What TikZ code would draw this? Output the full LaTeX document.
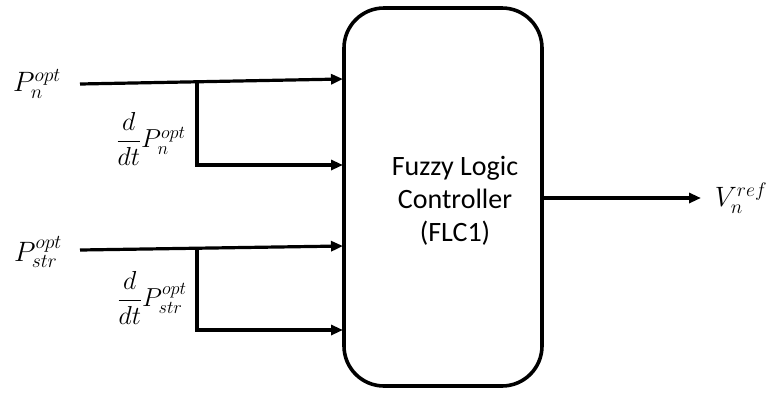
\RequirePackage{fix-cm}
\documentclass[tikz,border=0pt]{standalone}
\usepackage{amsmath}
\usepackage{fontspec}
\setmainfont{Carlito}
\usetikzlibrary{arrows.meta}
\tikzset{
  wire/.style={line width=3.2pt},
  feed/.style={wire, -{Triangle[length=12pt,width=10pt]}},
  flc/.style={draw, line width=3.6pt, rounded corners=40pt, minimum width=198pt, minimum height=378pt},
  flctext/.style={align=center, inner sep=0pt, font=\fontsize{28}{33}\selectfont},
  sig/.style={font=\fontsize{28}{32}\selectfont, inner sep=0pt},
  dsig/.style={font=\fontsize{26}{30}\selectfont, inner sep=0pt}
}
\begin{document}
\begin{tikzpicture}[x=1pt,y=-1pt]
\useasboundingbox (0,0) rectangle (772,392);
% controller block
\node[flc] (box) at (443,197) {};
\node[flctext] (name) at (455,201) {Fuzzy Logic\\Controller\\(FLC1)};
% inputs and branch points
\coordinate (in1) at (80,84);
\coordinate (br1) at (197,82);
\coordinate (e1) at (343,79);
\coordinate (d1) at (197,165);
\coordinate (f1) at (343,165);
\coordinate (in2) at (80,250);
\coordinate (br2) at (197,249);
\coordinate (e2) at (343,246);
\coordinate (d2) at (197,330);
\coordinate (f2) at (343,330);
\coordinate (out) at (701,198);
% connectors
\draw[feed] (in1) -- (e1);
\draw[feed, line cap=rect] (br1) -- (d1) -- (f1);
\draw[feed] (in2) -- (e2);
\draw[feed, line cap=rect] (br2) -- (d2) -- (f2);
\draw[feed] (box.east |- out) -- (out);
% labels
\node[sig] (l1) at (37,84) {$P_n^{opt}$};
\node[dsig] (l2) at (151,139) {$\dfrac{d}{dt}P_n^{opt}$};
\node[sig] (l3) at (38,252) {$P_{str}^{opt}$};
\node[dsig] (l4) at (152,298) {$\dfrac{d}{dt}P_{str}^{opt}$};
\node[sig] (l5) at (741,198) {$V_n^{ref}$};
\end{tikzpicture}
\end{document}
